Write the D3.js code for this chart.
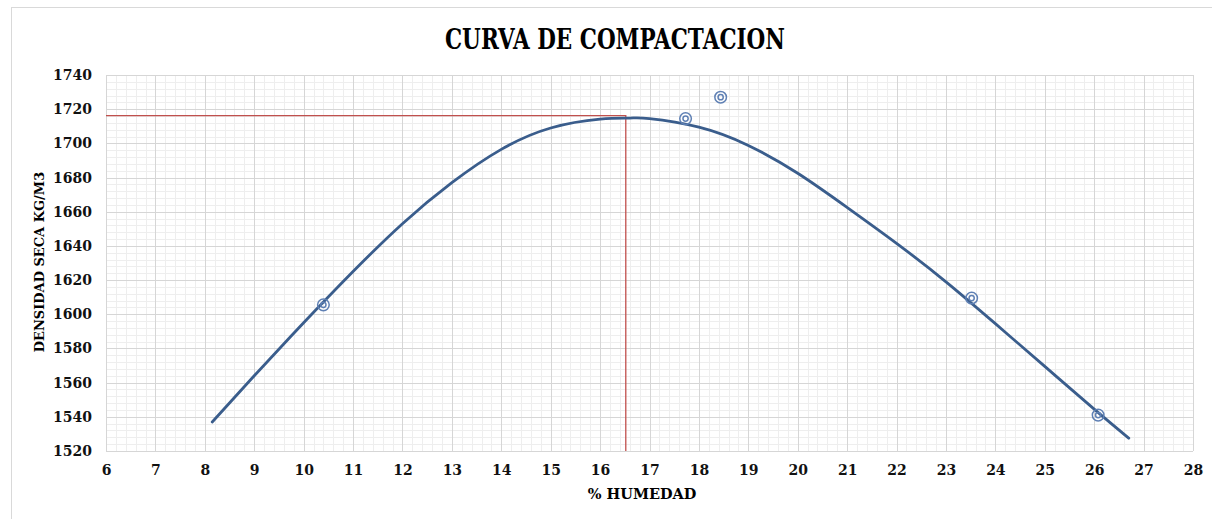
<!DOCTYPE html>
<html>
<head>
<meta charset="utf-8">
<script src="https://cdn.jsdelivr.net/npm/d3@7"></script>
<style>
  body { margin: 0; background: #fff; }
</style>
</head>
<body>
<div id="chart"></div>
<script>
// curve (trendline)
let curveX = [8.15, 9, 10, 11, 12, 13, 14, 15, 16, 16.6, 17, 18, 19, 20, 21, 22, 23, 24, 25, 26, 26.7];
let curveY = [1537, 1564, 1595, 1625, 1653, 1677, 1696.5, 1709, 1714.2, 1714.8, 1714.5, 1709.5, 1698.8, 1682.5, 1662.5, 1641.5, 1619, 1594.5, 1569.5, 1544.5, 1527.5];

// measured points
let pointX = [10.4, 17.73, 18.44, 23.52, 26.08];
let pointY = [1605.5, 1714.5, 1727, 1609.5, 1541];

// optimum (red guide lines)
let optX = [6, 16.52, 16.52];
let optY = [1716.2, 1716.2, 1520];

let xTicks = d3.range(6, 29, 1);
let yTicks = d3.range(1520, 1741, 20);

let W = 1212, H = 519;
let margin = { top: 75, right: 19, bottom: 68, left: 106 },
    width = W - margin.left - margin.right,
    height = H - margin.top - margin.bottom;

let root = d3.select("#chart")
    .append("svg")
    .attr("width", W)
    .attr("height", H);

// chart frame
root.append("rect")
    .attr("x", 11.5).attr("y", 7.5)
    .attr("width", W).attr("height", H)
    .attr("fill", "#fff")
    .attr("stroke", "#d9d9d9");

root.append("text")
    .attr("x", 615).attr("y", 49)
    .attr("text-anchor", "middle")
    .attr("textLength", 340)
    .attr("lengthAdjust", "spacingAndGlyphs")
    .style("font-family", "'DejaVu Serif', serif")
    .style("font-weight", "bold")
    .style("font-size", "27px")
    .text("CURVA DE COMPACTACION");

let svg = root.append("g")
    .attr("transform", "translate(" + margin.left + "," + margin.top + ")");

let x = d3.scaleLinear().domain([6, 28]).range([0, width]);
let y = d3.scaleLinear().domain([1520, 1740]).range([height, 0]);

// minor grid
let xMinor = d3.range(6, 28.001, 0.2);
let yMinor = d3.range(1520, 1740.001, 4);

svg.append("g")
    .selectAll("line")
    .data(xMinor)
    .enter()
    .append("line")
    .attr("x1", function (d) { return Math.round(x(d)) + 0.5 })
    .attr("x2", function (d) { return Math.round(x(d)) + 0.5 })
    .attr("y1", 0)
    .attr("y2", height)
    .attr("stroke", "#eeeeee");

svg.append("g")
    .selectAll("line")
    .data(yMinor)
    .enter()
    .append("line")
    .attr("y1", function (d) { return Math.round(y(d)) + 0.5 })
    .attr("y2", function (d) { return Math.round(y(d)) + 0.5 })
    .attr("x1", 0)
    .attr("x2", width)
    .attr("stroke", "#eeeeee");

// major grid
svg.append("g")
    .selectAll("line")
    .data(xTicks)
    .enter()
    .append("line")
    .attr("x1", function (d) { return Math.round(x(d)) + 0.5 })
    .attr("x2", function (d) { return Math.round(x(d)) + 0.5 })
    .attr("y1", 0)
    .attr("y2", height)
    .attr("stroke", "#d6d6d6");

svg.append("g")
    .selectAll("line")
    .data(yTicks)
    .enter()
    .append("line")
    .attr("y1", function (d) { return Math.round(y(d)) + 0.5 })
    .attr("y2", function (d) { return Math.round(y(d)) + 0.5 })
    .attr("x1", 0)
    .attr("x2", width)
    .attr("stroke", "#d6d6d6");

// axes (labels only)
let xAxis = svg.append("g")
    .attr("transform", "translate(0," + height + ")")
    .call(d3.axisBottom(x).tickValues(xTicks).tickSize(0).tickPadding(14).tickFormat(d3.format("d")));
xAxis.select(".domain").remove();

let yAxis = svg.append("g")
    .call(d3.axisLeft(y).tickValues(yTicks).tickSize(0).tickPadding(14).tickFormat(d3.format("d")));
yAxis.select(".domain").remove();

svg.selectAll(".tick text")
    .style("font-family", "'DejaVu Serif', serif")
    .style("font-weight", "bold")
    .style("font-size", "14px")
    .attr("fill", "#111");

// axis titles
svg.append("text")
    .attr("x", x(16.85))
    .attr("y", height + 48)
    .attr("text-anchor", "middle")
    .style("font-family", "'DejaVu Serif', serif")
    .style("font-weight", "bold")
    .style("font-size", "14.5px")
    .text("% HUMEDAD");

svg.append("text")
    .attr("transform", "translate(-62," + (height / 2 - 1) + ")rotate(-90)")
    .attr("text-anchor", "middle")
    .style("font-family", "'DejaVu Serif', serif")
    .style("font-weight", "bold")
    .style("font-size", "13px")
    .text("DENSIDAD SECA KG/M3");

// red guide lines
let optData = optX.map(function (d, i) { return { x: d, y: optY[i] } });
svg.append("path")
    .datum(optData)
    .attr("fill", "none")
    .attr("stroke", "#c0504d")
    .attr("stroke-width", 1.3)
    .attr("d", d3.line()
        .x(function (d) { return x(d.x) })
        .y(function (d) { return y(d.y) })
    );

// trendline
let curveData = curveX.map(function (d, i) { return { x: d, y: curveY[i] } });
svg.append("path")
    .datum(curveData)
    .attr("fill", "none")
    .attr("stroke", "#3a5d8c")
    .attr("stroke-width", 2.8)
    .attr("stroke-linecap", "round")
    .attr("d", d3.line()
        .curve(d3.curveNatural)
        .x(function (d) { return x(d.x) })
        .y(function (d) { return y(d.y) })
    );

// points: double circle markers
let pts = pointX.map(function (d, i) { return { x: d, y: pointY[i] } });
let mk = svg.append("g")
    .selectAll("g")
    .data(pts)
    .enter()
    .append("g")
    .attr("transform", function (d) { return "translate(" + x(d.x) + "," + y(d.y) + ")" });

mk.append("circle")
    .attr("r", 5.8)
    .attr("fill", "none")
    .attr("stroke", "#5f80b4")
    .attr("stroke-width", 1.5);

mk.append("circle")
    .attr("r", 2.6)
    .attr("fill", "none")
    .attr("stroke", "#5f80b4")
    .attr("stroke-width", 1.5);
</script>
</body>
</html>
